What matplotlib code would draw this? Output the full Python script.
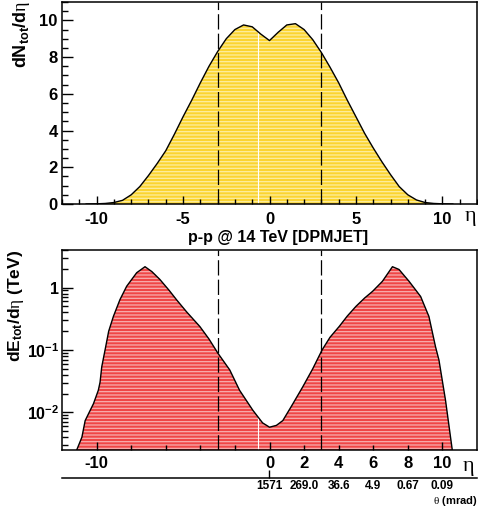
import numpy as np
import matplotlib
matplotlib.use("Agg")
import matplotlib.pyplot as plt
from matplotlib.ticker import MultipleLocator, FixedLocator, FuncFormatter, NullFormatter

# dN_tot/deta for p-p at 14 TeV (DPMJET)
eta_n = [-10.6, -10.0, -9.5, -9.0, -8.5, -8.0, -7.5, -7.0, -6.5, -6.0, -5.5,
         -5.0, -4.5, -4.0, -3.5, -3.0, -2.5, -2.0, -1.5, -1.0, -0.5, 0.0,
         0.5, 1.0, 1.5, 2.0, 2.5, 3.0, 3.5, 4.0, 4.5, 5.0, 5.5, 6.0, 6.5,
         7.0, 7.5, 8.0, 8.5, 9.0, 9.5, 10.0, 10.6]
dn_deta = [0.0, 0.01, 0.03, 0.08, 0.2, 0.5, 0.95, 1.55, 2.2, 2.9, 3.8,
           4.75, 5.65, 6.6, 7.5, 8.3, 9.0, 9.5, 9.75, 9.65, 9.25, 8.9,
           9.35, 9.75, 9.82, 9.5, 8.95, 8.25, 7.45, 6.6, 5.65, 4.75, 3.85,
           3.05, 2.3, 1.6, 0.95, 0.5, 0.22, 0.08, 0.03, 0.01, 0.0]

# dE_tot/deta (TeV)
eta_e = [-11.15, -10.85, -10.66, -10.37, -10.18, -9.9, -9.8, -9.7, -9.51,
         -9.3, -9.03, -8.65, -8.26, -7.68, -7.2, -6.8, -6.34, -5.8, -5.38,
         -4.8, -4.03, -3.5, -2.98, -2.3, -1.73, -0.96, -0.4, 0.0, 0.4, 0.77,
         1.3, 1.92, 2.5, 3.04, 3.5, 4.03, 4.5, 5.0, 5.5, 5.96, 6.53, 7.11,
         7.49, 8.07, 8.74, 9.22, 9.6, 9.8, 10.18, 10.57]
de_deta = [0.0025, 0.004, 0.0074, 0.0108, 0.0138, 0.0226, 0.0304, 0.054, 0.1,
           0.2, 0.344, 0.64, 1.05, 1.73, 2.16, 1.8, 1.35, 0.9, 0.64,
           0.41, 0.238, 0.15, 0.0885, 0.048, 0.0226, 0.0108, 0.0068, 0.0058,
           0.0062, 0.0074, 0.013, 0.0256, 0.05, 0.1, 0.16, 0.238, 0.35, 0.5,
           0.68, 0.87, 1.26, 2.16, 1.95, 1.26, 0.72, 0.344, 0.113, 0.069,
           0.0156, 0.0025]

# polar angle scale shown under the energy panel
theta_eta = [0, 2, 4, 6, 8, 10]
theta_labels = ["1571", "269.0", "36.6", "4.9", "0.67", "0.09"]

eta_acc = 3.0          # acceptance boundaries drawn as dashed lines
eta_seam = -0.65

W, H = 478, 508
plt.rcParams.update({
    "font.family": ["Liberation Sans", "DejaVu Sans"],
    "font.weight": "bold",
    "axes.unicode_minus": False,
    "mathtext.fontset": "custom",
    "mathtext.rm": "Liberation Sans:bold",
    "mathtext.bf": "Liberation Sans:bold",
    "mathtext.sf": "Liberation Sans:bold",
    "mathtext.it": "Liberation Serif:weight=normal",
    "hatch.linewidth": 0.9,
    "lines.scale_dashes": False,
})

fig = plt.figure(figsize=(W / 100, H / 100), dpi=100)


def fx(px):
    return px / W


def fy(py):
    return 1 - py / H


left, right = 62, 477
ax1 = fig.add_axes([fx(left), fy(204), fx(right - left), (204 - 2) / H])
ax2 = fig.add_axes([fx(left), fy(450), fx(right - left), (450 - 250) / H])

yellow, yellow_hatch = "#fbd431", "#fdeea0"
red, red_hatch = "#ef4646", "#f8aeae"

# ---- multiplicity panel ----
ax1.fill_between(eta_n, dn_deta, 0, facecolor=yellow, edgecolor=yellow_hatch,
                 hatch="-----", linewidth=0, zorder=1)
ax1.vlines(eta_seam, 0, np.interp(eta_seam, eta_n, dn_deta), color="white",
           lw=0.8, zorder=1.5)
ax1.plot(eta_n, dn_deta, color="black", lw=1.0, zorder=3)
for e in (-eta_acc, eta_acc):
    ax1.axvline(e, color="black", lw=0.9, dashes=(11, 3), zorder=2.6)
ax1.set_xlim(-12, 12)
ax1.set_ylim(0, 11)
ax1.xaxis.set_major_locator(MultipleLocator(5))
ax1.xaxis.set_minor_locator(MultipleLocator(1))
ax1.yaxis.set_major_locator(MultipleLocator(2))
ax1.yaxis.set_minor_locator(MultipleLocator(0.5))
ax1.tick_params(axis="x", which="major", direction="in", length=6, width=1.0,
                labelsize=12, pad=6, top=False)
ax1.tick_params(axis="x", which="minor", direction="in", length=3.5, width=1.0,
                top=False)
ax1.tick_params(axis="y", which="major", direction="in", length=8, width=1.0,
                labelsize=12, pad=3, right=False)
ax1.tick_params(axis="y", which="minor", direction="in", length=4, width=1.0,
                right=False)

# ---- energy panel ----
ylo, yhi = 0.0025, 4.0
ax2.set_yscale("log")
ax2.fill_between(eta_e, de_deta, 1e-4, facecolor=red, edgecolor=red_hatch,
                 hatch="-----", linewidth=0, zorder=1)
ax2.vlines(eta_seam, ylo, np.interp(eta_seam, eta_e, de_deta), color="white",
           lw=0.8, zorder=1.5)
ax2.plot(eta_e, de_deta, color="black", lw=1.0, zorder=3)
for e in (-eta_acc, eta_acc):
    ax2.axvline(e, color="black", lw=0.9, dashes=(11, 3), zorder=2.6)
ax2.set_xlim(-12, 12)
ax2.set_ylim(ylo, yhi)
ax2.xaxis.set_major_locator(FixedLocator([-10, 0, 10]))
ax2.xaxis.set_minor_locator(FixedLocator([-8, -6, -4, -2, 2, 4, 6, 8]))
ax2.xaxis.set_minor_formatter(FuncFormatter(lambda v, p: f"{v:g}" if v > 0 else ""))
ax2.xaxis.set_major_formatter(FuncFormatter(lambda v, p: f"{v:g}"))
ax2.yaxis.set_major_locator(FixedLocator([0.01, 0.1, 1]))
minor_log = [m * 10.0 ** k for k in (-3, -2, -1, 0) for m in range(2, 10)]
ax2.yaxis.set_minor_locator(FixedLocator([v for v in minor_log if ylo <= v <= yhi]))
ax2.yaxis.set_minor_formatter(NullFormatter())
ax2.yaxis.set_major_formatter(FuncFormatter(
    lambda v, p: "1" if abs(v - 1) < 1e-9 else r"$\mathrm{10^{%d}}$" % round(np.log10(v))))
ax2.tick_params(axis="x", which="major", direction="in", length=6, width=1.0,
                labelsize=12, pad=4, top=False)
ax2.tick_params(axis="x", which="minor", direction="in", length=3.5, width=1.0,
                labelsize=12, pad=4, top=False)
ax2.tick_params(axis="y", which="major", direction="in", length=8, width=1.0,
                labelsize=11.5, pad=2, right=False)
ax2.tick_params(axis="y", which="minor", direction="in", length=4, width=1.0,
                right=False)

for ax in (ax1, ax2):
    for s in ax.spines.values():
        s.set_linewidth(1.1)

# angle axis below the energy panel
sec = ax2.secondary_xaxis((450 - 478) / 200)
sec.set_xticks([theta_eta[0]], labels=[theta_labels[0]])
sec.set_xticks(theta_eta[1:], labels=theta_labels[1:], minor=True)
sec.tick_params(axis="x", which="major", direction="in", length=6, width=1.0,
                labelsize=8.5, pad=1.5)
sec.tick_params(axis="x", which="minor", length=0, labelsize=8.5, pad=1.5)
sec.spines["bottom"].set_linewidth(1.1)

# labels
fig.text(fx(22), fy(1), r"$\mathrm{dN_{tot}/d}\eta$", rotation=90,
         ha="center", va="top", fontsize=13)
fig.text(fx(16), fy(250), r"$\mathrm{dE_{tot}/d}\eta\ \mathrm{(TeV)}$", rotation=90,
         ha="center", va="top", fontsize=12.5)
fig.text(fx(278), fy(237), "p-p @ 14 TeV [DPMJET]", ha="center", va="center",
         fontsize=11.5)
fig.text(fx(470), fy(218), r"$\eta$", ha="center", va="center", fontsize=16)
fig.text(fx(468), fy(467), r"$\eta$", ha="center", va="center", fontsize=16)
fig.text(fx(477), fy(501.5), r"$\theta$ (mrad)", ha="right", va="center", fontsize=8)

fig.savefig("out.png", dpi=100)
